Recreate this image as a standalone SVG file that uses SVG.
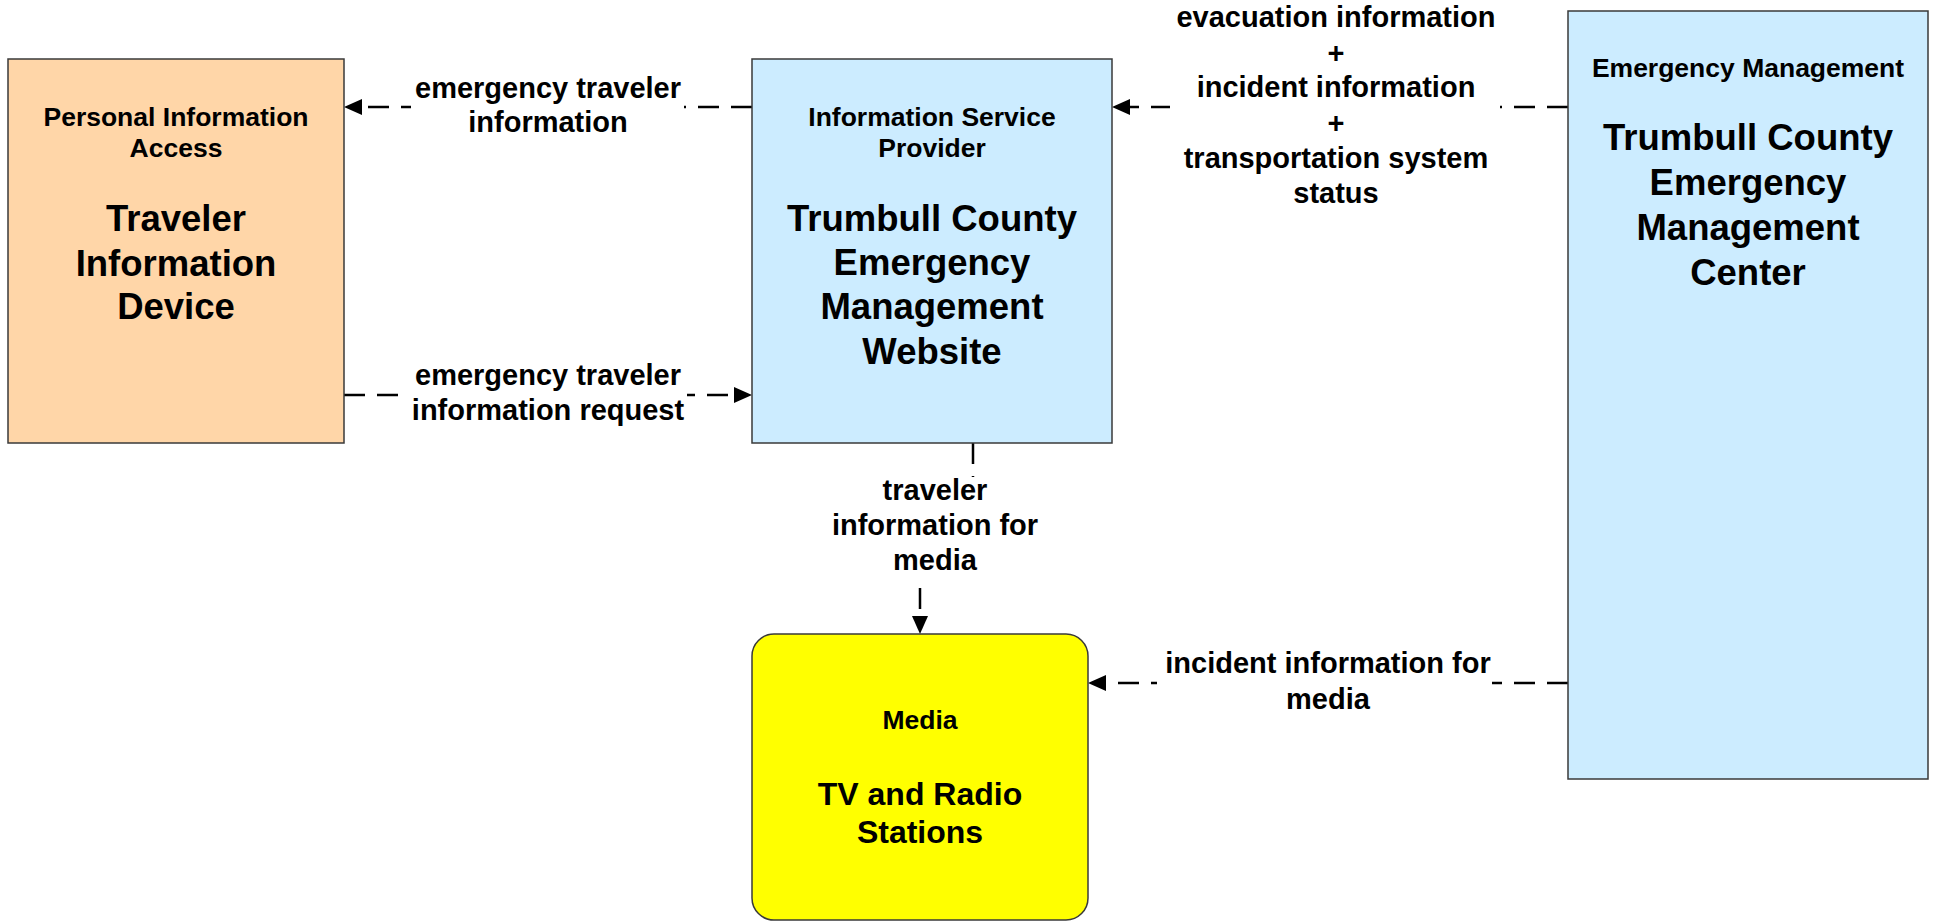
<svg xmlns="http://www.w3.org/2000/svg" width="1939" height="921" viewBox="0 0 1939 921">
<style>
text{font-family:"Liberation Sans",Arial,sans-serif;font-weight:bold;fill:#000;text-anchor:middle}
.s{font-size:26.5px}
.b{font-size:36.5px}
.m{font-size:32px}
.l{font-size:29px}
.box{stroke:#3a3a3a;stroke-width:1.5}
.conn{fill:none;stroke:#000;stroke-width:2.5;stroke-dasharray:21 12}
.bg{fill:#fff}
</style>
<defs>
<marker id="arr" markerUnits="userSpaceOnUse" markerWidth="20" markerHeight="18" refX="0" refY="8" orient="auto">
<path d="M0,0 L18,8 L0,16 z" fill="#000"/>
</marker>
</defs>
<rect width="1939" height="921" fill="#fff"/>
<g id="connectors">
<path class="conn" d="M752,107 H362" marker-end="url(#arr)"/>
<path class="conn" d="M344,395 H734" marker-end="url(#arr)"/>
<path class="conn" d="M1568,107 H1130" marker-end="url(#arr)"/>
<path class="conn" d="M973,443 V520 H920 V616" marker-end="url(#arr)"/>
<path class="conn" d="M1568,683 H1106" marker-end="url(#arr)"/>
</g>
<g id="labels">
<g id="label-eti">
<rect class="bg" x="411" y="76" width="273" height="64"/>
<text class="l" x="548" y="98">emergency traveler</text>
<text class="l" x="548" y="132">information</text>
</g>
<g id="label-etir">
<rect class="bg" x="409" y="362" width="278" height="66"/>
<text class="l" x="548" y="385">emergency traveler</text>
<text class="l" x="548" y="420">information request</text>
</g>
<g id="label-evac">
<rect class="bg" x="1170" y="2" width="330" height="210"/>
<text class="l" x="1336" y="27">evacuation information</text>
<text class="l" x="1336" y="63">+</text>
<text class="l" x="1336" y="97">incident information</text>
<text class="l" x="1336" y="133">+</text>
<text class="l" x="1336" y="168">transportation system</text>
<text class="l" x="1336" y="203">status</text>
</g>
<g id="label-tifm">
<rect class="bg" x="830" y="477" width="210" height="101"/>
<text class="l" x="935" y="500">traveler</text>
<text class="l" x="935" y="535">information for</text>
<text class="l" x="935" y="570">media</text>
</g>
<g id="label-iifm">
<rect class="bg" x="1157" y="650" width="335" height="66"/>
<text class="l" x="1328" y="673">incident information for</text>
<text class="l" x="1328" y="709">media</text>
</g>
</g>
<g id="node-tid">
<rect class="box" x="8" y="59" width="336" height="384" fill="#FFD6A8"/>
<text class="s" x="176" y="126">Personal Information</text>
<text class="s" x="176" y="157">Access</text>
<text class="b" x="176" y="231">Traveler</text>
<text class="b" x="176" y="276">Information</text>
<text class="b" x="176" y="319">Device</text>
</g>
<g id="node-isp">
<rect class="box" x="752" y="59" width="360" height="384" fill="#CCECFF"/>
<text class="s" x="932" y="126">Information Service</text>
<text class="s" x="932" y="157">Provider</text>
<text class="b" x="932" y="231">Trumbull County</text>
<text class="b" x="932" y="275">Emergency</text>
<text class="b" x="932" y="319">Management</text>
<text class="b" x="932" y="364">Website</text>
</g>
<g id="node-em">
<rect class="box" x="1568" y="11" width="360" height="768" fill="#CCECFF"/>
<text class="s" x="1748" y="77">Emergency Management</text>
<text class="b" x="1748" y="150">Trumbull County</text>
<text class="b" x="1748" y="195">Emergency</text>
<text class="b" x="1748" y="240">Management</text>
<text class="b" x="1748" y="285">Center</text>
</g>
<g id="node-media">
<rect class="box" x="752" y="634" width="336" height="286" rx="22" ry="22" fill="#FFFF00"/>
<text class="s" x="920" y="729">Media</text>
<text class="m" x="920" y="805">TV and Radio</text>
<text class="m" x="920" y="843">Stations</text>
</g>
</svg>
